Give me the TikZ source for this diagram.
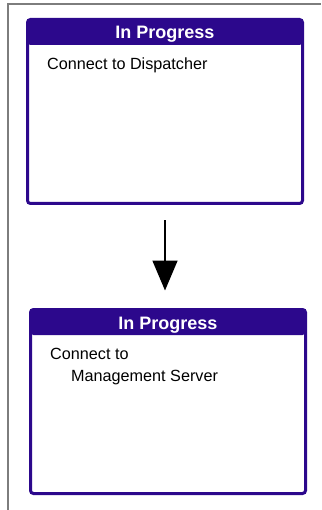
\documentclass[tikz,border=0pt]{standalone}
\usepackage{fontspec}
\setmainfont{Liberation Sans}
\usetikzlibrary{arrows.meta}
\definecolor{morado}{RGB}{44,8,140}
\definecolor{marco}{RGB}{125,125,125}

\begin{document}
\begin{tikzpicture}[x=1pt, y=-1pt,
    ventana/.style={draw=morado, line width=3pt, rounded corners=3pt, fill=white,
        minimum width=275pt, minimum height=184pt, inner sep=0pt,
        path picture={\fill[morado] (path picture bounding box.north west)
            rectangle ([yshift=-25.5pt]path picture bounding box.north east);}},
    titulo/.style={text=white, font=\bfseries\fontsize{18}{20}\selectfont, anchor=base, inner sep=0pt},
    texto/.style={font=\fontsize{16.2}{22}\selectfont, anchor=base west, inner sep=0pt},
    flecha/.style={line width=1.6pt, -{Triangle[length=30pt, width=25pt]}}]

    \useasboundingbox (0,0) rectangle (321,510);

    % marco de la figura
    \draw[marco, line width=1.5pt] (8,510) -- (8,4) -- (321,4);

    % #1 = desplazamiento, #2 = nombre, #3/#4 = primera y segunda linea
    \newcommand{\ventana}[4]{%
        \begin{scope}[shift={#1}]
            \node[ventana] (#2) at (137.5,92) {};
            \node[titulo] (#2-t) at (137.5,19.5) {In Progress};
            \node[texto] (#2-a) at (19.5,50) {#3};
            \node[texto] (#2-b) at (40.5,72) {#4};
        \end{scope}}

    \ventana{(27.5,19.5)}{v1}{Connect to Dispatcher}{}
    \ventana{(30.5,309.5)}{v2}{Connect to}{Management Server}

    \draw[flecha, shorten <=15.5pt, shorten >=17.5pt] (v1.south) -- (v1.south |- v2.north);

\end{tikzpicture}
\end{document}
